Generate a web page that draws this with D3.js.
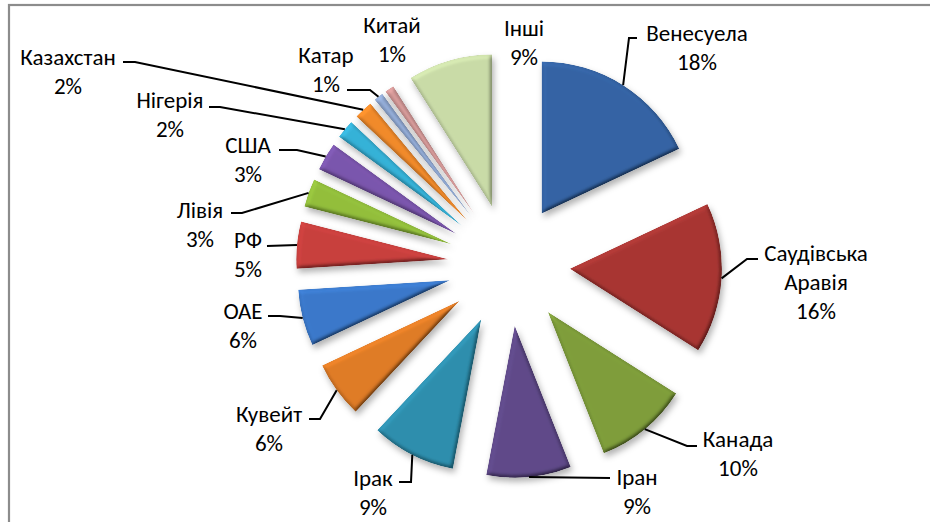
<!DOCTYPE html>
<html>
<head>
<meta charset="utf-8">
<script src="https://cdn.jsdelivr.net/npm/d3@7"></script>
<style>
  html, body { margin: 0; padding: 0; background: #fff; }
  svg { display: block; }
  text { font-family: Carlito, Lato, "Open Sans", sans-serif; font-size: 23px; fill: #000; }
</style>
</head>
<body>
<svg id="chart" width="930" height="522"></svg>
<script>
// ---- data ----
const countries = ["Венесуела", "Саудівська Аравія", "Канада", "Іран", "Ірак", "Кувейт", "ОАЕ", "РФ",
                   "Лівія", "США", "Нігерія", "Казахстан", "Катар", "Китай", "Інші"];
const labelLines = [["Венесуела"], ["Саудівська", "Аравія"], ["Канада"], ["Іран"], ["Ірак"], ["Кувейт"], ["ОАЕ"], ["РФ"],
                    ["Лівія"], ["США"], ["Нігерія"], ["Казахстан"], ["Катар"], ["Китай"], ["Інші"]];
const shares = [18, 16, 10, 9, 9, 6, 6, 5, 3, 3, 2, 2, 1, 1, 9];
const colors = ["#3564a5", "#a93633", "#7f9e3b", "#604a8a", "#2e8fae", "#e07c26", "#3b79cb", "#c9403e",
                "#93bf3c", "#7b56ad", "#36b2d8", "#f28b2b", "#94add8", "#d79b9a", "#cadca8"];

// ---- layout (label placement, first-line centre / elbow / line end) ----
const labelLayout = [
  {x: 697, y: 33, ex: 629, ey: 38, hx: 637},
  {x: 816, y: 253, ex: 747, ey: 259, hx: 758},
  {x: 738, y: 439, ex: 687, ey: 446, hx: 697},
  {x: 637, y: 477, ex: null, ey: 478, hx: 610},
  {x: 373, y: 478, ex: 411, ey: 482, hx: 399},
  {x: 269, y: 414, ex: 320, ey: 419, hx: 309},
  {x: 243, y: 311, ex: 280, ey: 316, hx: 268},
  {x: 248, y: 240, ex: null, ey: 246, hx: 267},
  {x: 200, y: 210, ex: 242, ey: 213, hx: 231},
  {x: 248, y: 145, ex: 297, ey: 150, hx: 279},
  {x: 170, y: 100, ex: 220, ey: 107, hx: 209},
  {x: 68,  y: 57,  ex: 135, ey: 62,  hx: 123},
  {x: 326, y: 55,  ex: 370, ey: 90,  hx: 347},
  {x: 392, y: 25,  ex: null, ey: null, hx: null},
  {x: 524, y: 28,  ex: null, ey: null, hx: null}
];

const svg = d3.select("#chart");
const cx = 509, cy = 265, R = 152, explode = 61, lineH = 29;

// frame (only top and left edges visible in the reference)
svg.append("rect").attr("x", 9).attr("y", 5).attr("width", 1000).attr("height", 1000)
  .attr("fill", "none").attr("stroke", "#8c8c8c").attr("stroke-width", 2.2);

// filters: bevel lighting + soft shadow
const defs = svg.append("defs");
const f = defs.append("filter").attr("id", "bevel")
  .attr("filterUnits", "userSpaceOnUse").attr("x", -1000).attr("y", -1000).attr("width", 2000).attr("height", 2000);
f.append("feGaussianBlur").attr("in", "SourceAlpha").attr("stdDeviation", 2.2).attr("result", "blur");
const dl = f.append("feDiffuseLighting").attr("in", "blur").attr("surfaceScale", 3)
  .attr("diffuseConstant", 1).attr("lighting-color", "#fff").attr("result", "diff");
dl.append("feDistantLight").attr("azimuth", 235).attr("elevation", 58);
f.append("feComposite").attr("in", "SourceGraphic").attr("in2", "diff").attr("operator", "arithmetic")
  .attr("k1", 1.17).attr("k2", 0).attr("k3", 0).attr("k4", 0).attr("result", "lit");
f.append("feComposite").attr("in", "lit").attr("in2", "SourceAlpha").attr("operator", "in").attr("result", "litIn");
f.append("feGaussianBlur").attr("in", "SourceAlpha").attr("stdDeviation", 3).attr("result", "sb");
f.append("feOffset").attr("in", "sb").attr("dx", 2).attr("dy", 4).attr("result", "so");
f.append("feFlood").attr("flood-color", "#000").attr("flood-opacity", 0.3).attr("result", "fl");
f.append("feComposite").attr("in", "fl").attr("in2", "so").attr("operator", "in").attr("result", "shadow");
const m = f.append("feMerge");
m.append("feMergeNode").attr("in", "shadow");
m.append("feMergeNode").attr("in", "litIn");

const pie = d3.pie().sort(null).value(d => d).startAngle(0).endAngle(2 * Math.PI);
const arcs = pie(shares);
const arc = d3.arc().innerRadius(0).outerRadius(R);

const g = svg.append("g").attr("transform", `translate(${cx},${cy})`);
g.selectAll("path.slice").data(arcs).enter().append("path")
  .attr("class", "slice")
  .attr("d", arc)
  .attr("fill", (d, i) => colors[i])
  .attr("filter", "url(#bevel)")
  .attr("transform", d => {
    const a = (d.startAngle + d.endAngle) / 2;
    return `translate(${explode * Math.sin(a)},${-explode * Math.cos(a)})`;
  });

// leader lines and labels
arcs.forEach((d, i) => {
  const L = labelLayout[i];
  const a = (d.startAngle + d.endAngle) / 2;
  const sx = cx + (explode + R) * Math.sin(a), sy = cy - (explode + R) * Math.cos(a);
  if (L.hx !== null) {
    const pts = [[sx, sy]];
    if (L.ex !== null) pts.push([L.ex, L.ey]);
    pts.push([L.hx, L.ey]);
    svg.append("path").attr("d", d3.line()(pts))
      .attr("fill", "none").attr("stroke", "#000").attr("stroke-width", 2);
  }
  const lines = labelLines[i].concat([shares[i] + "%"]);
  const t = svg.append("text").attr("text-anchor", "middle");
  lines.forEach((s, k) => {
    t.append("tspan").attr("x", L.x).attr("y", L.y + 8 + k * lineH).text(s);
  });
});
</script>
</body>
</html>
